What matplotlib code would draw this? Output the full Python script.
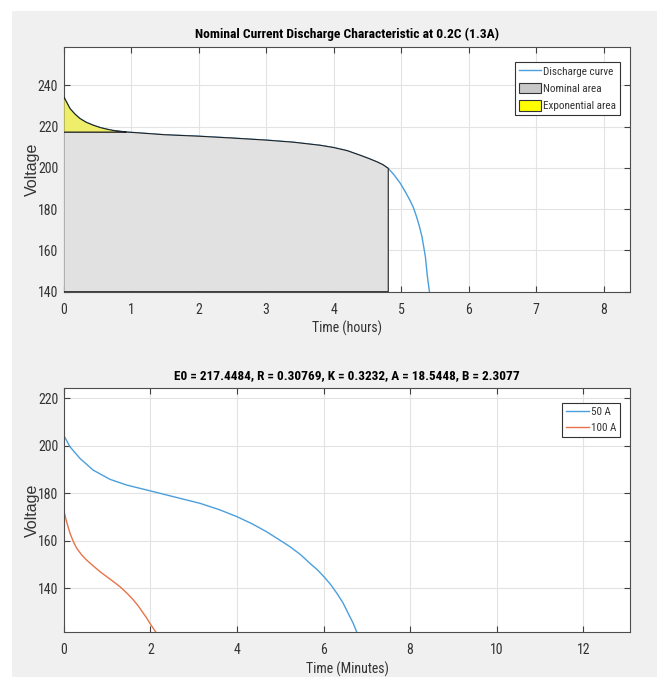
import matplotlib
matplotlib.use("Agg")
import matplotlib.pyplot as plt
from matplotlib.patches import Rectangle, Patch
from matplotlib.lines import Line2D
import numpy as np

# ---- data ----
t_hours = [0.0, 0.093, 0.17, 0.24, 0.33, 0.44, 0.54, 0.64, 0.73, 0.83, 0.93, 1.03, 1.5,
           2.0, 2.5, 3.0, 3.4, 3.8, 4.0, 4.2, 4.39, 4.52, 4.64, 4.73, 4.81, 4.9, 4.99,
           5.06, 5.13, 5.18, 5.23, 5.27, 5.31, 5.36, 5.39, 5.42]
v_top = [234.6, 228.8, 226.0, 224.0, 222.2, 220.7, 219.6, 218.8, 218.2, 217.8, 217.4,
         217.2, 216.1, 215.4, 214.5, 213.5, 212.5, 211.0, 209.9, 208.4, 206.2, 204.6,
         203.0, 201.6, 199.8, 196.5, 192.5, 188.6, 184.4, 181.0, 176.3, 171.8, 166.6,
         157.0, 147.3, 140.0]
nominal_v = 217.4
t_nominal_end = 4.81
t_exp_end = 0.93

t_min_50 = [0.0, 0.146, 0.377, 0.68, 1.07, 1.455, 1.99, 2.69, 3.15, 3.6, 4.0, 4.35,
            4.69, 5.0, 5.23, 5.47, 5.69, 5.86, 6.01, 6.17, 6.31, 6.45, 6.57, 6.68, 6.77]
v_50 = [204.5, 199.6, 194.7, 189.8, 185.9, 183.5, 181.1, 177.9, 175.8, 173.1, 170.2,
        167.2, 163.8, 160.2, 157.5, 154.2, 150.5, 147.8, 144.9, 141.5, 137.9, 133.9,
        129.5, 125.5, 121.5]
t_min_100 = [0.0, 0.07, 0.146, 0.22, 0.30, 0.41, 0.53, 0.68, 0.84, 1.07, 1.30, 1.46,
             1.61, 1.73, 1.84, 1.92, 1.99, 2.06, 2.13]
v_100 = [173.0, 167.8, 163.2, 159.8, 156.9, 154.2, 151.9, 149.5, 147.0, 143.9, 140.7,
         138.0, 135.1, 132.4, 129.5, 127.4, 125.3, 123.4, 121.5]

title_top = "Nominal Current Discharge Characteristic at 0.2C (1.3A)"
title_bot = "E0 = 217.4484, R = 0.30769, K = 0.3232, A = 18.5448, B = 2.3077"
legend_top = ["Discharge curve", "Nominal area", "Exponential area"]
legend_bot = ["50 A", "100 A"]

BLUE = "#4a9fdc"
ORANGE = "#e8734a"
NARROW = ["Roboto Condensed", "Liberation Sans", "DejaVu Sans"]
REG = ["Liberation Sans", "DejaVu Sans"]
TXT = "#333333"

fig = plt.figure(figsize=(6.57, 6.77), dpi=100, facecolor="white")
fig.patches.append(Rectangle((12/657, 0), 1 - 12/657, 1 - 11/677,
                             transform=fig.transFigure, facecolor="#f0f0f0",
                             edgecolor="none", zorder=-10))

def style(ax):
    ax.set_facecolor("white")
    ax.grid(True, color="#e3e3e3", linewidth=0.8)
    ax.set_axisbelow(True)
    ax.tick_params(direction="in", top=True, right=True, length=4, width=0.8,
                   color="#404040", labelsize=10, labelcolor=TXT)
    ax.tick_params(axis="x", pad=8)
    ax.tick_params(axis="y", pad=4)
    for lab in ax.get_xticklabels() + ax.get_yticklabels():
        lab.set_family(NARROW)
    for s in ax.spines.values():
        s.set_color("#4d4d4d")
        s.set_linewidth(0.8)

# ---- top axes ----
ax1 = fig.add_axes([63.7/657, 1 - 291.7/677, (630.5-63.7)/657, (291.7-46.7)/677])
t = np.array(t_hours)
v = np.array(v_top)
ax1.plot(t, v, color=BLUE, lw=1.0, zorder=2)
mask_n = t <= t_nominal_end
xn = np.concatenate([[0], t[mask_n], [t_nominal_end, 0]])
yn = np.concatenate([[nominal_v], np.minimum(v[mask_n], nominal_v), [140, 140]])
ax1.fill(xn, yn, facecolor="#e1e1e1", edgecolor="#222222", lw=0.8, zorder=3)
mask_e = t <= t_exp_end
xe = np.concatenate([t[mask_e], [t_exp_end, 0]])
ye = np.concatenate([v[mask_e], [nominal_v, nominal_v]])
ax1.fill(xe, ye, facecolor="#eeee6a", edgecolor="#222222", lw=0.8, zorder=3)
ax1.set_xlim(0, 8.4)
ax1.set_ylim(140, 258.8)
ax1.set_xticks(range(0, 9))
ax1.set_yticks(range(140, 241, 20))
style(ax1)
ax1.set_title(title_top, fontsize=9.7, fontweight="bold", family=NARROW, pad=6)
ax1.set_xlabel("Time (hours)", fontsize=10, family=NARROW, labelpad=3, color=TXT)
ax1.set_ylabel("Voltage", fontsize=11.5, family=REG, color=TXT)
ax1.yaxis.set_label_coords(-0.042, 0.5)
h1 = [Line2D([], [], color=BLUE, lw=1.0),
      Patch(facecolor="#c8c8c8", edgecolor="#333333", lw=0.8),
      Patch(facecolor="#ffff00", edgecolor="#333333", lw=0.8)]
leg1 = ax1.legend(h1, legend_top, loc="upper right", bbox_to_anchor=(0.9815, 0.9388),
                  fancybox=False, framealpha=1, edgecolor="#333333",
                  prop={"family": NARROW, "size": 8},
                  handlelength=2.0, handleheight=1.1, labelspacing=0.55,
                  borderpad=0.35, handletextpad=0.2, borderaxespad=0)
leg1.get_frame().set_linewidth(0.8)
for tx in leg1.get_texts():
    tx.set_color(TXT)

# ---- bottom axes ----
ax2 = fig.add_axes([63.7/657, 1 - 632.3/677, (630.5-63.7)/657, (632.3-387.7)/677])
ax2.plot(t_min_50, v_50, color=BLUE, lw=1.0)
ax2.plot(t_min_100, v_100, color=ORANGE, lw=1.0)
ax2.set_xlim(0, 13.09)
ax2.set_ylim(121.5, 224.5)
ax2.set_xticks(range(0, 13, 2))
ax2.set_yticks(range(140, 221, 20))
style(ax2)
ax2.set_title(title_bot, fontsize=9.5, fontweight="bold", family=NARROW, pad=6)
ax2.set_xlabel("Time (Minutes)", fontsize=10, family=NARROW, labelpad=3, color=TXT)
ax2.set_ylabel("Voltage", fontsize=11.5, family=REG, color=TXT)
ax2.yaxis.set_label_coords(-0.042, 0.5)
leg2 = ax2.legend(legend_bot, loc="upper right", bbox_to_anchor=(0.9815, 0.9387),
                  fancybox=False, framealpha=1, edgecolor="#333333",
                  prop={"family": NARROW, "size": 8},
                  handlelength=2.0, labelspacing=0.55, borderpad=0.35,
                  handletextpad=0.2, borderaxespad=0)
leg2.get_frame().set_linewidth(0.8)
for tx in leg2.get_texts():
    tx.set_color(TXT)

fig.savefig("out.png", dpi=100, facecolor="white")
